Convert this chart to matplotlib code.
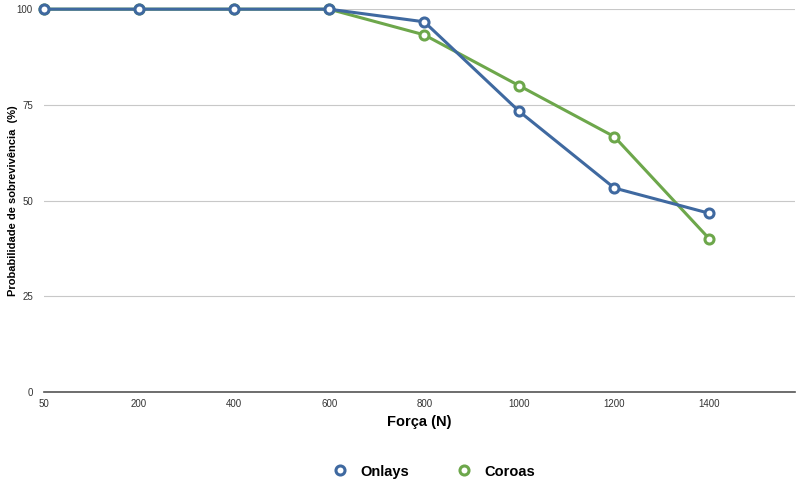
import numpy as np
import matplotlib.pyplot as plt
from matplotlib.lines import Line2D

plt.rcParams['font.family'] = ['Liberation Sans', 'DejaVu Sans']

forca = ['50', '200', '400', '600', '800', '1000', '1200', '1400']
onlays = [100, 100, 100, 100, 96.7, 73.3, 53.3, 46.7]
coroas = [100, 100, 100, 100, 93.3, 80.0, 66.7, 40.0]

azul = '#3f69a0'
verde = '#6da74b'

fig = plt.figure(figsize=(7.99, 4.83), dpi=100)
ax = fig.add_axes([0.055, 0.188, 0.94, 0.793])

x = np.arange(len(forca))
ax.plot(x, coroas, color=verde, lw=2.2, marker='o', ms=6.5, mfc='white',
        mec=verde, mew=2.2, clip_on=False, zorder=3)
ax.plot(x, onlays, color=azul, lw=2.2, marker='o', ms=6.5, mfc='white',
        mec=azul, mew=2.2, clip_on=False, zorder=4)

ax.set_xlim(0, 7.9)
ax.set_ylim(0, 100)
ax.set_xticks(x)
ax.set_xticklabels(forca)
ax.set_yticks([0, 25, 50, 75, 100])
ax.tick_params(axis='both', length=0, labelsize=7, colors='#333333')
ax.tick_params(axis='x', pad=5)
ax.tick_params(axis='y', pad=8)

ax.grid(axis='y', color='#c8c8c8', lw=0.8)
ax.set_axisbelow(True)
for s in ['top', 'right', 'left']:
    ax.spines[s].set_visible(False)
ax.spines['bottom'].set_color('#555555')
ax.spines['bottom'].set_linewidth(1.2)

ax.set_xlabel('Força (N)', fontsize=10.5, fontweight='bold', labelpad=4)
ax.set_ylabel('Probabilidade de sobrevivência  (%)', fontsize=8,
              fontweight='bold')
ax.yaxis.set_label_coords(-0.034, 0.5)

# legend shows only the open markers
handles = [
    Line2D([], [], ls='none', marker='o', ms=6.5, mfc='white', mec=azul, mew=2.2),
    Line2D([], [], ls='none', marker='o', ms=6.5, mfc='white', mec=verde, mew=2.2),
]
fig.legend(handles, ['Onlays', 'Coroas'], loc='lower center', ncol=2,
           bbox_to_anchor=(0.543, -0.018), frameon=False,
           prop={'weight': 'bold', 'size': 10.5}, handlelength=1.0,
           columnspacing=3.3, handletextpad=0.9)

fig.savefig('out.png', dpi=100)
